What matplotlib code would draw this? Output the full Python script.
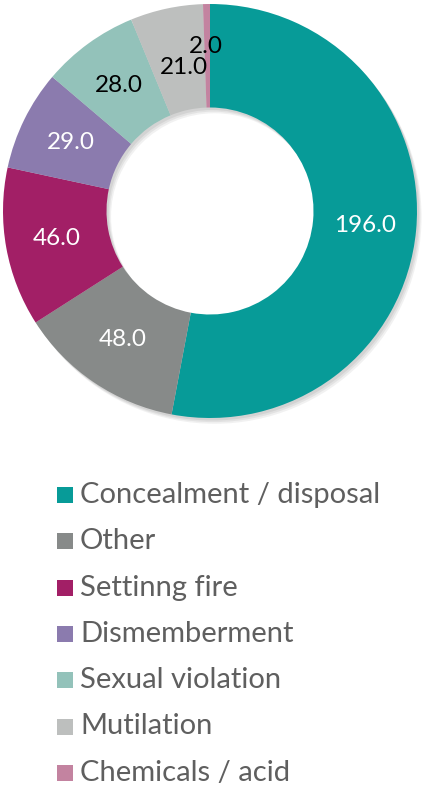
"""Donut chart of body treatment categories with legend below."""

import matplotlib

matplotlib.use("Agg")
import matplotlib.pyplot as plt
from matplotlib.patches import Rectangle

categories = [
    "Concealment / disposal",
    "Other",
    "Settinng fire",
    "Dismemberment",
    "Sexual violation",
    "Mutilation",
    "Chemicals / acid",
]
counts = [196.0, 48.0, 46.0, 29.0, 28.0, 21.0, 2.0]
colors = ["#079b98", "#878a89", "#a21f66", "#8b7bae", "#93c2ba", "#bdbfbe", "#c383a0"]
label_colors = ["white", "white", "white", "white", "black", "black", "black"]

plt.rcParams["font.family"] = ["Lato", "DejaVu Sans"]

W, H = 422, 798
fig = plt.figure(figsize=(W / 100, H / 100), dpi=100)

cx, cy, r = 210, 211, 207
ax = fig.add_axes([(cx - r) / W, (H - cy - r) / H, 2 * r / W, 2 * r / H])
ax.set_xlim(-1, 1)
ax.set_ylim(-1, 1)
ax.set_aspect("equal")
ax.axis("off")

# soft drop shadow
for dx, dy, a in [(0.022, -0.028, 0.08), (0.016, -0.02, 0.09), (0.01, -0.012, 0.10)]:
    ax.pie(
        [1],
        radius=1.0,
        center=(dx, dy),
        colors=["#555555"],
        wedgeprops=dict(width=0.5, alpha=a, linewidth=0),
    )

wedges, texts, autotexts = ax.pie(
    counts,
    radius=1.0,
    startangle=90,
    counterclock=False,
    colors=colors,
    autopct=lambda p: f"{p * sum(counts) / 100:.1f}",
    pctdistance=0.75,
    wedgeprops=dict(width=0.5, linewidth=0),
    textprops=dict(fontsize=17.5),
)
for t, c in zip(autotexts, label_colors):
    t.set_color(c)

# the two thin slices at the top: nudge labels apart like the original
px = 1 / r
x, y = autotexts[6].get_position()
autotexts[6].set_position((x - 1 * px, y + 9 * px))
x, y = autotexts[5].get_position()
autotexts[5].set_position((x + 7 * px, y - 8 * px))

ax.set_xlim(-1, 1)
ax.set_ylim(-1, 1)

# legend
y0, step = 495, 46.3
for i, (name, col) in enumerate(zip(categories, colors)):
    y = y0 + i * step
    fig.patches.append(
        Rectangle((57 / W, 1 - (y + 8) / H), 16 / W, 16 / H,
                  transform=fig.transFigure, facecolor=col, linewidth=0)
    )
    fig.text(80 / W, 1 - y / H, name, fontsize=21, color="#5f5f5f",
             va="center", ha="left")

fig.savefig("out.png", dpi=100)
